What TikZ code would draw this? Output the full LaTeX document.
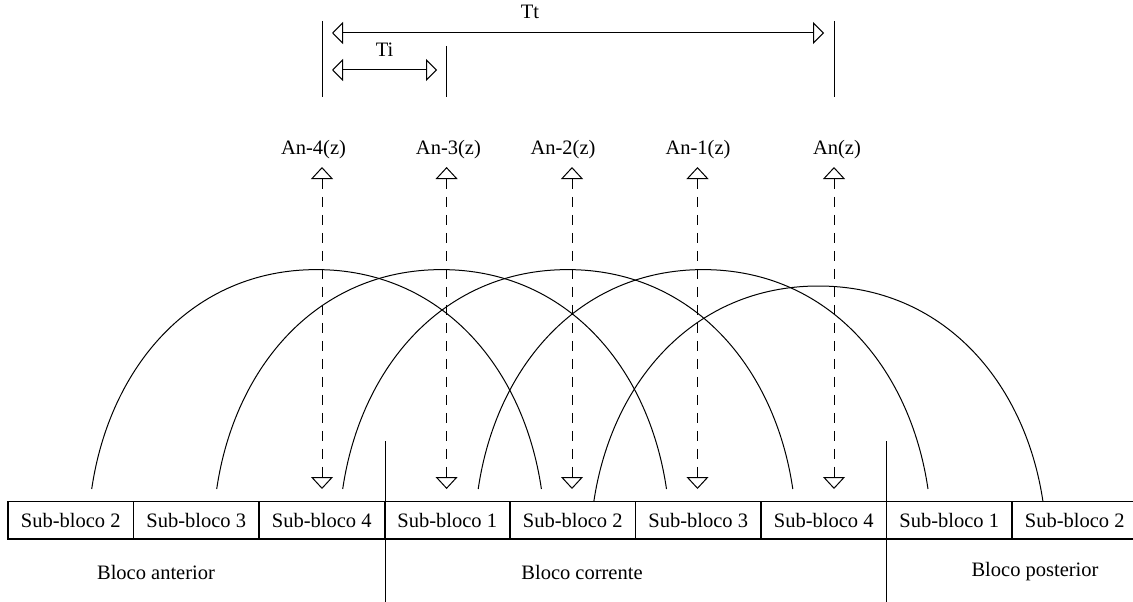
\documentclass[tikz,border=0pt]{standalone}
\usepackage{fontspec}
\setmainfont{Liberation Serif}
\usetikzlibrary{arrows.meta}
\tikzset{
  base/.style={line width=1pt, black},
  opentip/.style={Triangle[open, length=12pt, width=22pt, line width=1pt]},
  dimarrow/.style={base, {Triangle[open, length=11pt, width=22pt, line width=1pt]}-{Triangle[open, length=11pt, width=22pt, line width=1pt]}},
  dasharrow/.style={base, dash pattern=on 10pt off 8pt, {Triangle[open, length=12pt, width=22pt, line width=1pt]}-{Triangle[open, length=12pt, width=22pt, line width=1pt]}},
  arcline/.style={base},
  sepline/.style={base},
  subbox/.style={draw, line width=1.1pt, minimum width=125.5pt, minimum height=37.3pt, inner sep=0pt, outer sep=0pt, font=\fontsize{20.5}{24}\selectfont},
  lbl/.style={inner sep=0pt, font=\fontsize{20.5}{24}\selectfont}
}
\newcommand\archump[5]{%
  \draw[arcline] (#1,#4) .. controls ({#1+18},{#4-0.56*(#4-#5)}) and ({#2-124},#5) .. (#2,#5)
     .. controls ({#2+124},#5) and ({#3-18},{#4-0.56*(#4-#5)}) .. (#3,#4);}
\begin{document}
\begin{tikzpicture}[x=1pt, y=-1pt]
\useasboundingbox (0,0) rectangle (1133,602);

% top dimension markers
\coordinate (vl1a) at (322,21); \coordinate (vl1b) at (322,97);
\coordinate (vl2a) at (446,46); \coordinate (vl2b) at (446,97);
\coordinate (vl3a) at (834,21); \coordinate (vl3b) at (834,97);
\draw[sepline] (vl1a) -- (vl1b);
\draw[sepline] (vl2a) -- (vl2b);
\draw[sepline] (vl3a) -- (vl3b);
\coordinate (tt1) at (332,33); \coordinate (tt2) at (824,33);
\coordinate (ti1) at (332,70); \coordinate (ti2) at (437,70);
\draw[dimarrow] (tt1) -- (tt2);
\draw[dimarrow] (ti1) -- (ti2);
\node[lbl] (Tt) at (530,12) {Tt};
\node[lbl] (Ti) at (384.6,50) {Ti};

% labels An
\node[lbl] (a4) at (313.5,150) {An-4(z)};
\node[lbl] (a3) at (448.4,150) {An-3(z)};
\node[lbl] (a2) at (563,150) {An-2(z)};
\node[lbl] (a1) at (698,150) {An-1(z)};
\node[lbl] (a0) at (837,150) {An(z)};

% dashed double arrows
\foreach \i/\x in {4/322,3/446.6,2/572,1/697.5,0/834}{
  \coordinate (u\i) at (\x,167);
  \coordinate (d\i) at (\x,489);
  \draw[dasharrow] (u\i) -- (d\i);
}

% arcs
\archump{91.7}{316.5}{541.4}{489}{269.6}
\archump{216.7}{441.6}{666.5}{489}{269.6}
\archump{342.7}{567.7}{792.8}{489}{269.6}
\archump{478.2}{703.1}{928}{489}{269.6}
\archump{593.8}{818.4}{1043}{501.7}{286}

% sub-blocks
\foreach \i/\t in {1/Sub-bloco 2,2/Sub-bloco 3,3/Sub-bloco 4,4/Sub-bloco 1,5/Sub-bloco 2,6/Sub-bloco 3,7/Sub-bloco 4,8/Sub-bloco 1,9/Sub-bloco 2}{
  \node[subbox] (b\i) at ({8+125.5*(\i-0.5)},520.35) {\t};
}

% block separators
\coordinate (s1a) at (385,441); \coordinate (s1b) at (385,602);
\coordinate (s2a) at (886.5,441); \coordinate (s2b) at (886.5,602);
\draw[sepline] (s1a) -- (s1b);
\draw[sepline] (s2a) -- (s2b);

% block labels
\node[lbl] (ba) at (156,572) {Bloco anterior};
\node[lbl] (bc) at (582,572) {Bloco corrente};
\node[lbl] (bp) at (1035,572) {Bloco posterior};
\end{tikzpicture}
\end{document}
